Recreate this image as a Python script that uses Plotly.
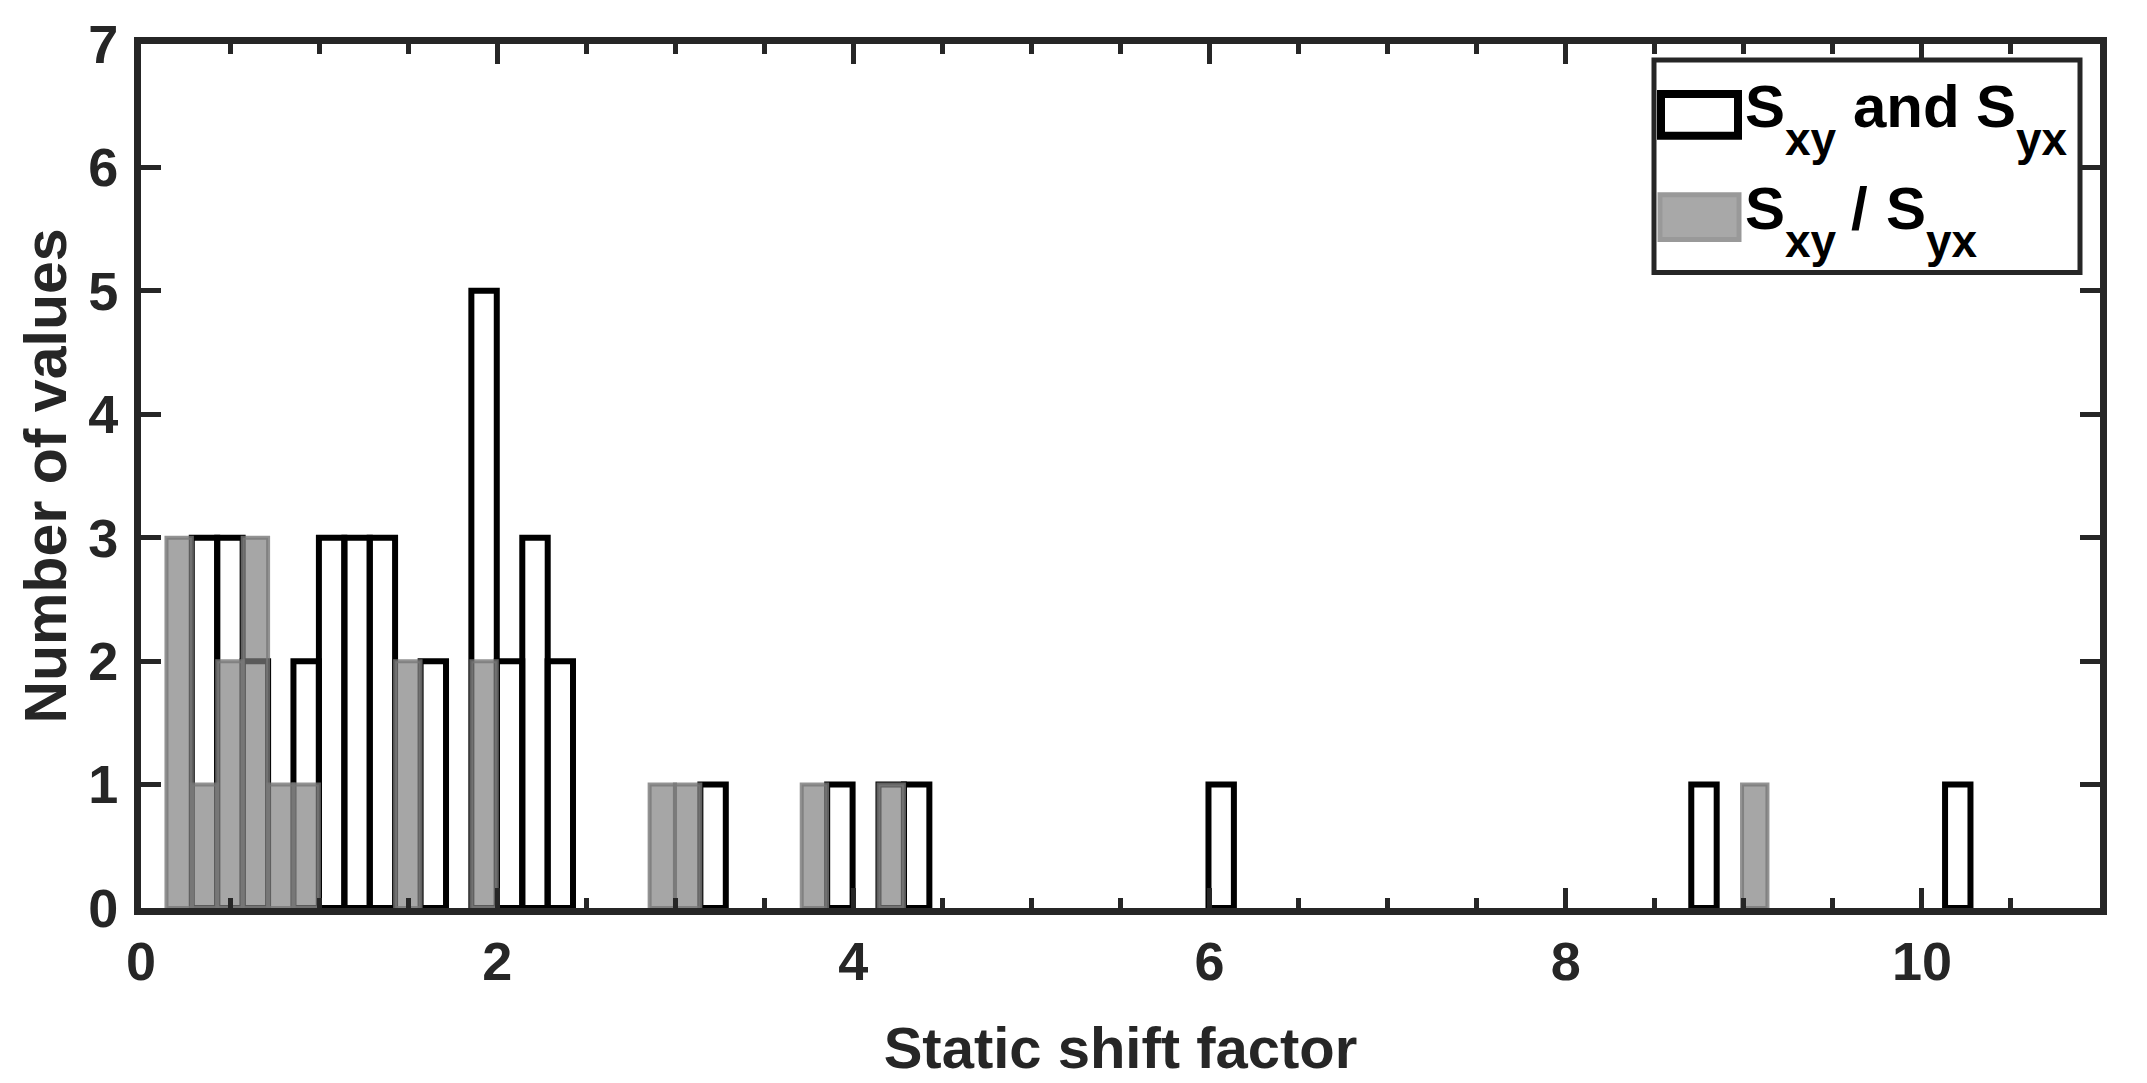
import plotly.graph_objects as go

# ---------------- data ----------------
bin_width = 0.1427

black_left = [0.285, 0.428, 0.571, 0.856, 0.999, 1.142, 1.284, 1.570, 1.855,
              1.998, 2.141, 2.283, 3.141, 3.853, 4.141, 4.284, 5.994, 8.705, 10.130]
black_count = [3, 3, 2, 2, 3, 3, 3, 2, 5, 2, 3, 2, 1, 1, 1, 1, 1, 1, 1]

gray_left = [0.143, 0.285, 0.428, 0.571, 0.714, 0.856, 1.427, 1.855,
             2.856, 2.998, 3.710, 4.141, 8.990]
gray_count = [3, 1, 2, 3, 1, 1, 2, 2, 1, 1, 1, 1, 1]

x_ticks = [0, 2, 4, 6, 8, 10]
y_ticks = [0, 1, 2, 3, 4, 5, 6, 7]

x_title = "Static shift factor"
y_title = "Number of values"

# ---------------- figure ----------------
W, H = 2147, 1083
ML, MR, MT, MB = 141, 47, 44, 173
AX = "#262626"
FONT = "Liberation Sans"

fig = go.Figure()
fig.add_trace(go.Bar(
    x=black_left, y=black_count, width=bin_width, offset=0,
    marker=dict(color="rgba(255,255,255,0)", line=dict(color="black", width=6)),
    name="Sxy and Syx", showlegend=False, hoverinfo="skip"))
fig.add_trace(go.Bar(
    x=gray_left, y=gray_count, width=bin_width, offset=0,
    marker=dict(color="rgba(128,128,128,0.7)",
                line=dict(color="rgba(120,120,120,0.8)", width=4)),
    name="Sxy / Syx", showlegend=False, hoverinfo="skip"))

fig.update_layout(
    width=W, height=H, barmode="overlay",
    margin=dict(l=ML, r=MR, t=MT, b=MB, pad=0),
    paper_bgcolor="white", plot_bgcolor="white",
    font=dict(family=FONT, color=AX),
)
fig.update_xaxes(
    range=[0, 11], tickvals=x_ticks, ticks="inside", ticklen=20, tickwidth=5,
    tickcolor=AX, showline=True, linewidth=7, linecolor=AX, mirror="allticks",
    showgrid=False, zeroline=False,
    minor=dict(dtick=0.5, ticks="inside", ticklen=10, tickwidth=5, tickcolor=AX),
    tickfont=dict(size=54, weight="bold", color=AX, family=FONT),
    title=dict(text=x_title, standoff=40,
               font=dict(size=58, weight="bold", color=AX, family=FONT)),
)
fig.update_yaxes(
    range=[0, 7], tickvals=y_ticks, ticks="inside", ticklen=20, tickwidth=5,
    tickcolor=AX, showline=True, linewidth=7, linecolor=AX, mirror="allticks",
    showgrid=False, zeroline=False, ticklabelstandoff=5,
    tickfont=dict(size=54, weight="bold", color=AX, family=FONT),
    title=dict(text=y_title, standoff=5,
               font=dict(size=59, weight="bold", color=AX, family=FONT)),
)

# ---------------- hand-made legend (paper coordinates) ----------------
pw, ph = W - ML - MR, H - MT - MB
def px(x):
    return (x - ML) / pw
def py(y):
    return 1 - (y - MT) / ph

fig.add_shape(type="rect", xref="paper", yref="paper",
              x0=px(1654), x1=px(2080), y0=py(60), y1=py(273),
              line=dict(color=AX, width=5), fillcolor="white", layer="above")
fig.add_shape(type="rect", xref="paper", yref="paper",
              x0=px(1661), x1=px(1738), y0=py(94), y1=py(136),
              line=dict(color="black", width=8), fillcolor="white", layer="above")
fig.add_shape(type="rect", xref="paper", yref="paper",
              x0=px(1660), x1=px(1739), y0=py(195), y1=py(240),
              line=dict(color="#999999", width=5), fillcolor="#a8a8a8", layer="above")

BIG, SUB = 60, 46
def label(text, x, baseline, size):
    # place text so that its baseline sits at the given pixel row
    mid = baseline - 0.3465 * size
    fig.add_annotation(xref="paper", yref="paper", x=px(x), y=py(mid),
                       text=text, showarrow=False, xanchor="left", yanchor="middle",
                       borderpad=0,
                       font=dict(size=size, weight="bold", color="black", family=FONT))

# row 1: S_xy and S_yx
label("S", 1744, 127, BIG)
label("xy", 1784, 155, SUB)
label("and", 1852, 127, BIG)
label("S", 1975, 127, BIG)
label("yx", 2015, 155, SUB)
# row 2: S_xy / S_yx
label("S", 1744, 230, BIG)
label("xy", 1784, 257, SUB)
label("/", 1850, 230, BIG)
label("S", 1885, 230, BIG)
label("yx", 1925, 257, SUB)

fig.write_html("out.html")
